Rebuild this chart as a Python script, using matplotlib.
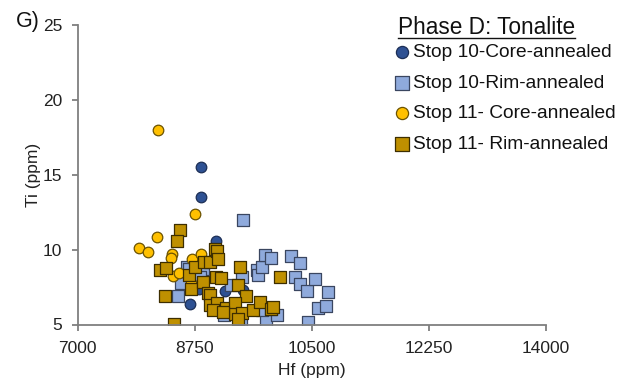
import matplotlib
matplotlib.use("Agg")
import matplotlib.pyplot as plt
from matplotlib.lines import Line2D

plt.rcParams['font.family'] = ['Liberation Sans', 'DejaVu Sans']

# Data
s10_core_hf = [8846, 8840, 9064, 9075, 8684, 9200, 9480, 8810]
s10_core_ti = [15.5, 13.5, 10.6, 10.0, 6.35, 7.25, 7.3, 7.35]

s10_rim_hf = [9478, 8500, 8540, 8630, 8660, 8880, 8830, 9290, 9460, 9680, 9700, 9760,
              9800, 9890, 10190, 10330, 10250, 10320, 10430, 10550, 10750, 10590, 10710,
              10450, 9820, 9760, 9975, 9890, 9190, 9440]
s10_rim_ti = [11.95, 6.9, 7.8, 8.85, 8.7, 8.7, 8.2, 7.65, 8.2, 8.65, 8.3, 8.85,
              9.65, 9.42, 9.6, 9.1, 8.2, 7.7, 7.27, 8.02, 7.2, 6.08, 6.26,
              5.2, 5.25, 5.95, 5.63, 6.04, 5.65, 5.3]

s11_core_hf = [8200, 8750, 8195, 7923, 8060, 8410, 8400, 8715, 8840, 8425, 8515, 8700]
s11_core_ti = [18.0, 12.4, 10.85, 10.12, 9.82, 9.68, 9.42, 9.38, 9.68, 8.22, 8.42, 7.75]

s11_rim_hf = [8525, 8485, 8240, 8325, 8312, 8435, 8660, 8690, 8760, 8885, 8985, 8880,
              9058, 9080, 9095, 9065, 9150, 9430, 9405, 9525, 10020, 8955, 8980, 8975,
              9085, 9220, 9360, 9355, 9455, 9400, 9615, 9725, 9895, 9920, 9030, 9180]
s11_rim_ti = [11.3, 10.55, 8.64, 8.75, 6.9, 5.03, 8.3, 7.4, 8.86, 9.17, 9.19, 7.86,
              10.05, 9.9, 9.4, 8.17, 8.1, 8.86, 7.64, 6.9, 8.14, 7.08, 6.98, 6.3,
              6.43, 6.08, 6.46, 5.72, 5.8, 5.35, 5.95, 6.5, 6.06, 6.2, 5.95, 5.85]

labels = ["Stop 10-Core-annealed", "Stop 10-Rim-annealed",
          "Stop 11- Core-annealed", "Stop 11- Rim-annealed"]
x_ticks = [7000, 8750, 10500, 12250, 14000]
y_ticks = [5, 10, 15, 20, 25]

fig = plt.figure(figsize=(6.31, 3.83), dpi=100)
ax = fig.add_axes([77.5/631, 1-324.5/383, (546-77.5)/631, (324.5-25)/383])

ax.scatter(s10_core_hf, s10_core_ti, s=58, marker='o', facecolor='#2E5193',
           edgecolor='#1C2E55', linewidth=0.9, label=labels[0], zorder=3)
ax.scatter(s10_rim_hf, s10_rim_ti, s=72, marker='s', facecolor='#8FAADC',
           edgecolor='#3A4660', linewidth=0.9, label=labels[1], zorder=3)
ax.scatter(s11_core_hf, s11_core_ti, s=58, marker='o', facecolor='#FFC000',
           edgecolor='#6B5200', linewidth=0.9, label=labels[2], zorder=3)
ax.scatter(s11_rim_hf, s11_rim_ti, s=72, marker='s', facecolor='#BF9000',
           edgecolor='#3D2E00', linewidth=0.9, label=labels[3], zorder=3)

ax.set_xlim(7000, 14000)
ax.set_ylim(5, 25)
ax.set_xticks(x_ticks)
ax.set_yticks(y_ticks)
ax.set_xticklabels([str(v) for v in x_ticks])
ax.set_yticklabels([str(v) for v in y_ticks])
for side in ['top', 'right']:
    ax.spines[side].set_visible(False)
for side in ['left', 'bottom']:
    ax.spines[side].set_color('#7F7F7F')
    ax.spines[side].set_linewidth(1.3)
    ax.spines[side].set_zorder(5)
ax.tick_params(axis='both', direction='out', length=4, width=1.3, color='#7F7F7F',
               labelsize=12.5, labelcolor='#222222')
ax.tick_params(axis='x', pad=8)
ax.tick_params(axis='y', pad=7)
ax.set_xlabel("Hf (ppm)", fontsize=12.5, color='#222222', labelpad=5)
ax.set_ylabel("Ti (ppm)", fontsize=12.5, color='#222222', labelpad=1)
ax.patch.set_alpha(0)

fig.text(16/631, 1-22/383, "G)", fontsize=15.5, color='#111111', va='center', ha='left')

leg = ax.legend(loc='upper left', bbox_to_anchor=(393/631, 1-44/383),
                bbox_transform=fig.transFigure, frameon=False, fontsize=13.8,
                handletextpad=0.12, labelspacing=0.68, handlelength=0.9,
                borderaxespad=0, borderpad=0, markerscale=1.15)
for t in leg.get_texts():
    t.set_color('#111111')

title = fig.text(398/631, 1-28/383, "Phase D: Tonalite", fontsize=16.3, color='#111111',
                 va='center', ha='left')
fig.canvas.draw()
bb = title.get_window_extent().transformed(fig.transFigure.inverted())
fig.add_artist(Line2D([bb.x0, bb.x1], [bb.y0 + 0.004, bb.y0 + 0.004],
                      transform=fig.transFigure, color='#111111', linewidth=1.0))

fig.savefig("out.png", dpi=100)
